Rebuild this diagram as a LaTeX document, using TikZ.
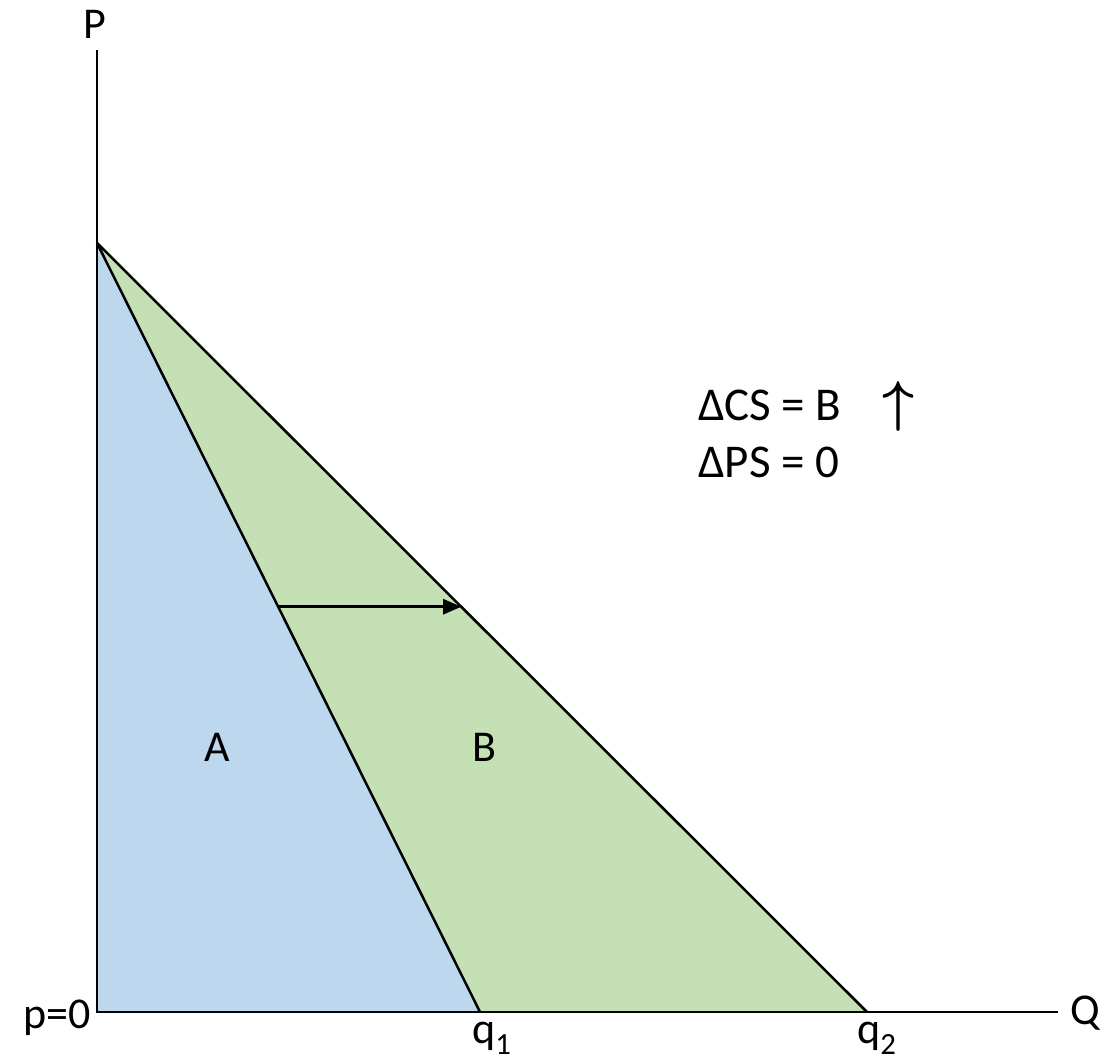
\documentclass[tikz,border=0pt]{standalone}
\usepackage{fontspec}
\setmainfont{Carlito}
\usepackage{graphicx}
\usepackage{xcolor}
\usetikzlibrary{arrows.meta,calc}

\definecolor{areaA}{HTML}{BDD7EE}
\definecolor{areaB}{HTML}{C5E0B4}

\begin{document}
\begin{tikzpicture}[
  x=1pt, y=1pt,
  every node/.style={font=\fontsize{44}{54}\selectfont, inner sep=0pt},
  note/.style={anchor=base west, font=\fontsize{47}{57}\selectfont},
  axis/.style={line width=1.5pt},
  demand/.style={line width=2.5pt},
  shiftarr/.style={-{Triangle[length=18pt, width=15pt]}, line width=2.5pt}
]
\useasboundingbox (-97,-48) rectangle (1021,1012);
\coordinate (O) at (0,0);
\coordinate (ytop) at (0,962);
\coordinate (xend) at (961,0);
\coordinate (D) at (0,769);
\coordinate (q1) at (383,0);
\coordinate (q2) at (770,0);

% areas
\fill[areaA] (O) -- (D) -- (q1) -- cycle;
\fill[areaB] (D) -- (q1) -- (q2) -- cycle;

% axes and demand
\draw[axis] (ytop) -- (O) -- (xend);
\draw[demand] (D) -- (q1);
\draw[demand] (D) -- (q2);

% demand shift
\coordinate (s1) at ($(D)!0.473!(q1)$);
\coordinate (s2) at ($(D)!0.473!(q2)$);
\draw[shiftarr] (s1) -- (s2);

\node (P) at (-2,988) {P};
\node (Q) at (988,-1) {Q};
\node[anchor=base east] (p0) at (-6,-16) {p=0};
\node[anchor=base west] (lq1) at (375,-31) {q\textsubscript{1}};
\node[anchor=base west] (lq2) at (760,-31) {q\textsubscript{2}};
\node (A) at (120,265) {A};
\node (B) at (387,265) {B};
\node[note] (dcs) at (601,591) {ΔCS = B};
\node[note] (dps) at (601,534) {ΔPS = 0};
\node (up) at (801,606) {\resizebox{32pt}{39pt}{\boldmath$\uparrow$}};
\end{tikzpicture}
\end{document}
